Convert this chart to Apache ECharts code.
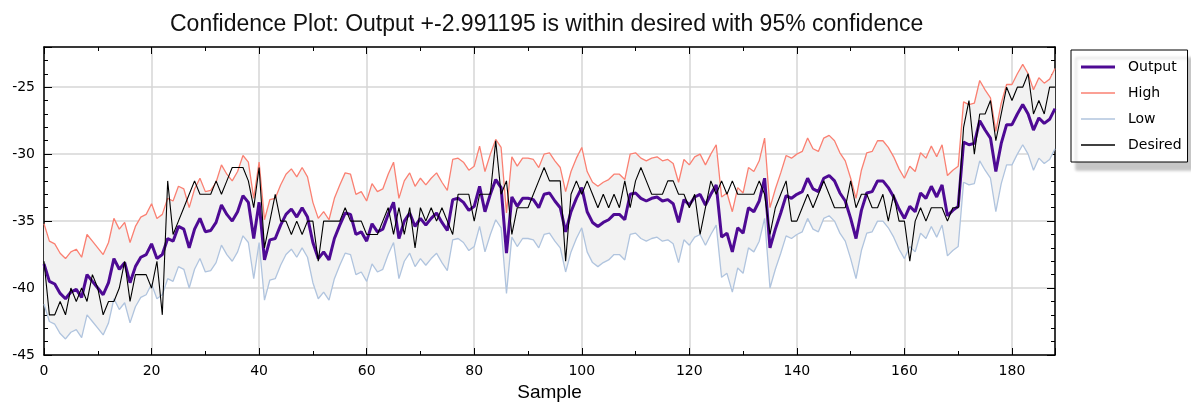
<!DOCTYPE html>
<html style="height: 100%">
<head>
<meta charset="utf-8">
</head>
<body style="height: 100%; margin: 0; background: #fff">
<div id="container" style="width: 1191px; height: 403px"></div>
<script src="https://cdn.jsdelivr.net/npm/echarts@6/dist/echarts.min.js"></script>
<script type="text/javascript">
// values, sample 0..188
var output = [
  -38.2, -39.5, -39.7, -40.4, -40.8, -40.3, -40.1, -40.7, -39.0, -39.5,
  -40.0, -40.5, -39.6, -37.8, -38.6, -38.1, -39.6, -38.4, -37.7, -37.5,
  -36.7, -37.8, -37.5, -36.3, -36.5, -35.4, -35.6, -37.0, -35.6, -34.8,
  -35.8, -35.7, -35.1, -33.8, -34.5, -35.0, -34.3, -33.1, -33.6, -36.3,
  -33.6, -37.9, -36.4, -36.3, -35.3, -34.5, -34.1, -34.7, -34.0, -34.7,
  -36.6, -37.8, -37.3, -37.9, -36.3, -35.3, -34.4, -34.5, -36.0, -35.8,
  -36.5, -35.2, -35.8, -35.6, -34.5, -33.6, -36.3, -35.0, -34.4, -35.4,
  -34.8, -35.3, -34.8, -34.4, -35.1, -35.7, -33.4, -33.3, -33.6, -34.2,
  -33.9, -32.4, -34.3, -33.0, -31.9, -32.5, -37.4, -33.2, -33.9, -33.3,
  -33.3, -33.4, -34.0, -33.0, -32.9, -33.5, -34.0, -35.8, -34.3, -33.3,
  -32.5, -34.3, -35.1, -35.4, -35.1, -34.9, -34.5, -34.5, -34.9, -33.0,
  -32.9, -33.3, -33.5, -33.3, -33.2, -33.5, -33.4, -33.7, -35.1, -33.4,
  -33.8, -33.2, -33.0, -33.8, -33.0, -32.3, -36.2, -35.9, -37.3, -35.5,
  -35.9, -34.0, -34.3, -33.5, -31.8, -37.0, -35.6, -34.4, -33.1, -33.3,
  -33.0, -32.8, -31.8, -32.6, -32.8, -31.8, -31.6, -32.0, -32.9, -33.5,
  -34.8, -36.3, -34.2, -32.9, -32.8, -32.0, -32.0, -32.5, -33.2, -34.1,
  -34.8, -33.9, -34.3, -32.9, -33.3, -32.4, -33.2, -32.3, -34.6, -34.2,
  -33.9, -29.1, -29.3, -29.2, -27.5, -28.2, -28.8, -31.3, -29.2, -27.8,
  -27.8, -27.0, -26.3, -27.0, -28.2, -27.3, -27.7, -27.4, -26.6
];
var high = [
  -35.2, -36.5, -36.7, -37.4, -37.8, -37.3, -37.1, -37.7, -36.0, -36.5,
  -37.0, -37.5, -36.6, -34.8, -35.6, -35.1, -36.6, -35.4, -34.7, -34.5,
  -33.7, -34.8, -34.5, -33.3, -33.5, -32.4, -32.6, -34.0, -32.6, -31.8,
  -32.8, -32.7, -32.1, -30.8, -31.5, -32.0, -31.3, -30.1, -30.6, -33.3,
  -30.6, -34.9, -33.4, -33.3, -32.3, -31.5, -31.1, -31.7, -31.0, -31.7,
  -33.6, -34.8, -34.3, -34.9, -33.3, -32.3, -31.4, -31.5, -33.0, -32.8,
  -33.5, -32.2, -32.8, -32.6, -31.5, -30.6, -33.3, -32.0, -31.4, -32.4,
  -31.8, -32.3, -31.8, -31.4, -32.1, -32.7, -30.4, -30.3, -30.6, -31.2,
  -30.9, -29.4, -31.3, -30.0, -28.9, -29.5, -34.4, -30.2, -30.9, -30.3,
  -30.3, -30.4, -31.0, -30.0, -29.9, -30.5, -31.0, -32.8, -31.3, -30.3,
  -29.5, -31.3, -32.1, -32.4, -32.1, -31.9, -31.5, -31.5, -31.9, -30.0,
  -29.9, -30.3, -30.5, -30.3, -30.2, -30.5, -30.4, -30.7, -32.1, -30.4,
  -30.8, -30.2, -30.0, -30.8, -30.0, -29.3, -33.2, -32.9, -34.3, -32.5,
  -32.9, -31.0, -31.3, -30.5, -28.8, -34.0, -32.6, -31.4, -30.1, -30.3,
  -30.0, -29.8, -28.8, -29.6, -29.8, -28.8, -28.6, -29.0, -29.9, -30.5,
  -31.8, -33.3, -31.2, -29.9, -29.8, -29.0, -29.0, -29.5, -30.2, -31.1,
  -31.8, -30.9, -31.3, -29.9, -30.3, -29.4, -30.2, -29.3, -31.6, -31.2,
  -30.9, -26.1, -26.3, -26.2, -24.5, -25.2, -25.8, -28.3, -26.2, -24.8,
  -24.8, -24.0, -23.3, -24.0, -25.2, -24.3, -24.7, -24.4, -23.6
];
var low = [
  -41.2, -42.5, -42.7, -43.4, -43.8, -43.3, -43.1, -43.7, -42.0, -42.5,
  -43.0, -43.5, -42.6, -40.8, -41.6, -41.1, -42.6, -41.4, -40.7, -40.5,
  -39.7, -40.8, -40.5, -39.3, -39.5, -38.4, -38.6, -40.0, -38.6, -37.8,
  -38.8, -38.7, -38.1, -36.8, -37.5, -38.0, -37.3, -36.1, -36.6, -39.3,
  -36.6, -40.9, -39.4, -39.3, -38.3, -37.5, -37.1, -37.7, -37.0, -37.7,
  -39.6, -40.8, -40.3, -40.9, -39.3, -38.3, -37.4, -37.5, -39.0, -38.8,
  -39.5, -38.2, -38.8, -38.6, -37.5, -36.6, -39.3, -38.0, -37.4, -38.4,
  -37.8, -38.3, -37.8, -37.4, -38.1, -38.7, -36.4, -36.3, -36.6, -37.2,
  -36.9, -35.4, -37.3, -36.0, -34.9, -35.5, -40.4, -36.2, -36.9, -36.3,
  -36.3, -36.4, -37.0, -36.0, -35.9, -36.5, -37.0, -38.8, -37.3, -36.3,
  -35.5, -37.3, -38.1, -38.4, -38.1, -37.9, -37.5, -37.5, -37.9, -36.0,
  -35.9, -36.3, -36.5, -36.3, -36.2, -36.5, -36.4, -36.7, -38.1, -36.4,
  -36.8, -36.2, -36.0, -36.8, -36.0, -35.3, -39.2, -38.9, -40.3, -38.5,
  -38.9, -37.0, -37.3, -36.5, -34.8, -40.0, -38.6, -37.4, -36.1, -36.3,
  -36.0, -35.8, -34.8, -35.6, -35.8, -34.8, -34.6, -35.0, -35.9, -36.5,
  -37.8, -39.3, -37.2, -35.9, -35.8, -35.0, -35.0, -35.5, -36.2, -37.1,
  -37.8, -36.9, -37.3, -35.9, -36.3, -35.4, -36.2, -35.3, -37.6, -37.2,
  -36.9, -32.1, -32.3, -32.2, -30.5, -31.2, -31.8, -34.3, -32.2, -30.8,
  -30.8, -30.0, -29.3, -30.0, -31.2, -30.3, -30.7, -30.4, -29.6
];
var desired = [
  -38, -42, -42, -41, -42, -40, -41, -40, -41, -39,
  -40, -42, -41, -41, -40, -38, -41, -39, -39, -39,
  -40, -38, -42, -32, -36, -35, -34, -33, -32, -33,
  -33, -33, -32, -33, -32, -31, -31, -31, -32, -34,
  -31, -37, -35, -33, -35, -35, -36, -35, -36, -35,
  -35, -38, -35, -35, -35, -35, -34, -35, -35, -35,
  -36, -36, -36, -35, -34, -36, -34, -36, -34, -37,
  -34, -35, -34, -35, -34, -35, -36, -33, -33, -33,
  -35, -33, -33, -33, -29, -33, -32, -36, -34, -34,
  -34, -33, -32, -31, -32, -32, -32, -38, -33, -32,
  -33, -32, -33, -34, -33, -34, -33, -34, -32, -34,
  -32, -31, -32, -33, -33, -33, -32, -32, -33, -33,
  -34, -33, -36, -34, -32, -33, -32, -33, -32, -33,
  -33, -33, -33, -32, -33, -36, -34, -33, -32, -35,
  -35, -34, -33, -34, -33, -32, -33, -34, -34, -34,
  -32, -34, -33, -33, -34, -34, -33, -35, -33, -35,
  -35, -38, -35, -34, -35, -34, -34, -34, -35, -34,
  -34, -28, -26, -30, -27, -27, -26, -29, -27, -25,
  -26, -25, -25, -24, -27, -26, -27, -25, -25
];
var seriesNames = ['Output', 'High', 'Low', 'Desired'];
var titleText = 'Confidence Plot: Output +-2.991195 is within desired with 95% confidence';

function pairs(arr) {
    return arr.map(function (v, i) { return [i, v]; });
}

var dom = document.getElementById('container');
var myChart = echarts.init(dom, null, {renderer: 'canvas'});

var tickStyle = {color: '#000', width: 1};
function xAx(pos, labels) {
    return {
        type: 'value', min: 0, max: 188, interval: 20, position: pos,
        axisLine: {show: true, onZero: false, lineStyle: {color: '#000', width: 1.5}},
        axisTick: {show: true, inside: true, length: 7, lineStyle: tickStyle},
        minorTick: {show: true, splitNumber: 2, length: 4, lineStyle: tickStyle},
        axisLabel: {show: labels, color: '#000', fontFamily: 'DejaVu Sans', fontSize: 14, margin: 9, showMaxLabel: false},
        splitLine: {show: labels, lineStyle: {color: '#d6d6d6', width: 1.5}},
        name: labels ? 'Sample' : '', nameLocation: 'middle', nameGap: 28,
        nameTextStyle: {fontFamily: 'Liberation Sans', fontSize: 19, color: '#000'}
    };
}
function yAx(pos, labels) {
    return {
        type: 'value', min: -45, max: -22, interval: 5, position: pos,
        axisLine: {show: true, onZero: false, lineStyle: {color: '#000', width: 1.5}},
        axisTick: {show: true, inside: true, length: 8, lineStyle: tickStyle},
        minorTick: {show: true, splitNumber: 5, length: 4, lineStyle: tickStyle},
        axisLabel: {show: labels, color: '#000', fontFamily: 'DejaVu Sans', fontSize: 14, margin: 9, showMaxLabel: false},
        splitLine: {show: labels, lineStyle: {color: '#d6d6d6', width: 1.5}}
    };
}
function lineSeries(name, data, color, width) {
    return {
        name: name, type: 'line', data: pairs(data), symbol: 'none', showSymbol: false,
        lineStyle: {color: color, width: width}, itemStyle: {color: color}
    };
}

option = {
    animation: false,
    backgroundColor: '#fff',
    title: {
        text: titleText, left: 165, top: 8,
        textStyle: {fontFamily: 'Liberation Sans', fontSize: 23, fontWeight: 'normal', color: '#111'}
    },
    grid: {left: 44, right: 136, top: 47, bottom: 48, outerBoundsMode: 'none', containLabel: false},
    legend: {
        data: [
            {name: 'Output', icon: 'path://M0,0h34v3h-34z'},
            {name: 'High', icon: 'path://M0,0h34v1.4h-34z'},
            {name: 'Low', icon: 'path://M0,0h34v1.4h-34z'},
            {name: 'Desired', icon: 'path://M0,0h34v1.4h-34z'}
        ],
        orient: 'vertical', left: 1071, top: 50,
        padding: [10, 6, 10, 10], itemWidth: 34, itemHeight: 14, itemGap: 12,
        backgroundColor: '#fff', borderColor: '#000', borderWidth: 1,
        shadowColor: 'rgba(0,0,0,0.22)', shadowBlur: 3, shadowOffsetX: 5, shadowOffsetY: 8,
        textStyle: {fontFamily: 'DejaVu Sans', fontSize: 14, color: '#000', lineHeight: 14, padding: [0, 0, 0, 8]}
    },
    xAxis: [xAx('bottom', true), xAx('top', false)],
    yAxis: [yAx('left', true), yAx('right', false)],
    series: [
        {
            // shaded confidence band between High and Low
            name: 'band', type: 'custom', silent: true, z: 1,
            data: [[0, high[0]]],
            encode: {x: 0, y: 1},
            renderItem: function (params, api) {
                var pts = [];
                for (var i = 0; i < high.length; i++) {
                    pts.push(api.coord([i, high[i]]));
                }
                for (var j = low.length - 1; j >= 0; j--) {
                    pts.push(api.coord([j, low[j]]));
                }
                return {type: 'polygon', shape: {points: pts}, style: {fill: '#f2f2f2'}};
            }
        },
        lineSeries('High', high, '#fa8072', 1.3),
        lineSeries('Low', low, '#b0c4de', 1.3),
        lineSeries('Output', output, '#4e0a94', 3),
        lineSeries('Desired', desired, '#000', 1.1)
    ]
};
myChart.setOption(option);
</script>
</body>
</html>
